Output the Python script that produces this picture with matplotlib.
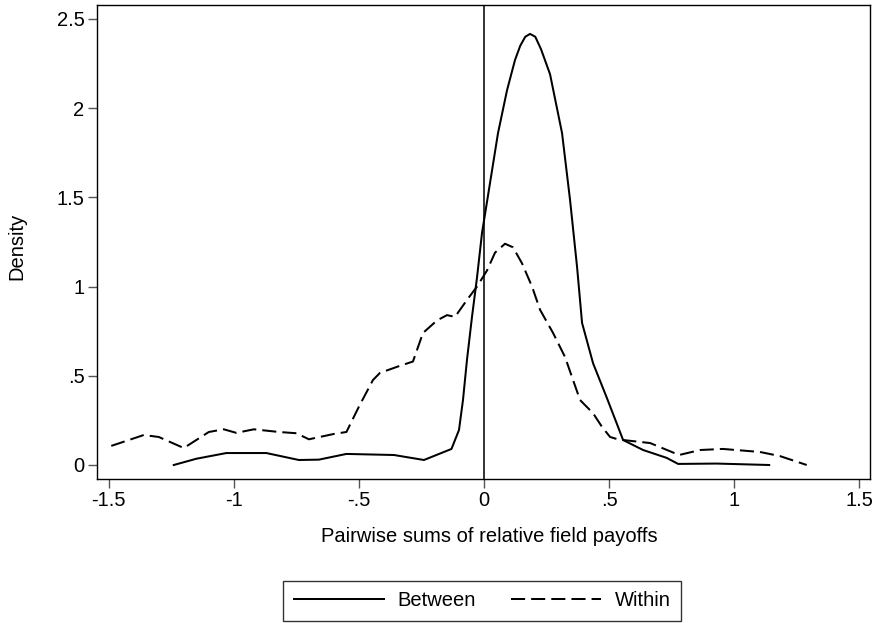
import matplotlib
matplotlib.use("Agg")
import matplotlib.pyplot as plt

plt.rcParams['font.family'] = ['Liberation Sans', 'DejaVu Sans']
plt.rcParams['axes.unicode_minus'] = False

# density estimates
between_x = [-1.24, -1.15, -1.03, -0.87, -0.74, -0.66, -0.55, -0.36, -0.24, -0.13,
             -0.10, -0.084, -0.068, -0.048, -0.028, -0.008, 0.024, 0.056, 0.092,
             0.124, 0.145, 0.165, 0.184, 0.205, 0.228, 0.264, 0.312, 0.344, 0.372,
             0.392, 0.436, 0.49, 0.53, 0.556, 0.636, 0.73, 0.776, 0.93, 1.14]
between_y = [0.0, 0.035, 0.067, 0.067, 0.028, 0.03, 0.062, 0.056, 0.028, 0.09,
             0.196, 0.364, 0.59, 0.83, 1.05, 1.30, 1.58, 1.86, 2.10,
             2.27, 2.35, 2.40, 2.416, 2.40, 2.33, 2.19, 1.86, 1.485, 1.11,
             0.796, 0.57, 0.38, 0.235, 0.14, 0.084, 0.04, 0.006, 0.008, 0.0]

within_x = [-1.49, -1.36, -1.30, -1.20, -1.10, -1.04, -0.99, -0.92, -0.82, -0.75,
            -0.70, -0.60, -0.55, -0.50, -0.444, -0.416, -0.348, -0.284, -0.244,
            -0.188, -0.148, -0.116, -0.068, -0.028, 0.012, 0.044, 0.084, 0.116,
            0.152, 0.192, 0.224, 0.276, 0.324, 0.356, 0.384, 0.436, 0.472, 0.504,
            0.544, 0.556, 0.664, 0.78, 0.864, 0.955, 1.103, 1.183, 1.29]
within_y = [0.107, 0.168, 0.157, 0.095, 0.185, 0.2, 0.18, 0.2, 0.185, 0.178,
            0.144, 0.174, 0.185, 0.327, 0.476, 0.516, 0.55, 0.58, 0.74,
            0.81, 0.84, 0.83, 0.925, 1.0, 1.09, 1.19, 1.24, 1.22,
            1.13, 1.0, 0.87, 0.74, 0.605, 0.476, 0.364, 0.29, 0.213, 0.157,
            0.14, 0.14, 0.123, 0.056, 0.084, 0.09, 0.073, 0.05, 0.0]

xticks = [-1.5, -1, -0.5, 0, 0.5, 1, 1.5]
xtick_labels = ['-1.5', '-1', '-.5', '0', '.5', '1', '1.5']
yticks = [0, 0.5, 1, 1.5, 2, 2.5]
ytick_labels = ['0', '.5', '1', '1.5', '2', '2.5']

fs = 14.5

fig = plt.figure(figsize=(8.72, 6.23), dpi=100)
ax = fig.add_axes([97 / 872, 1 - 479 / 623, 773 / 872, 474 / 623])

ax.axvline(0, color='#333333', lw=1.4, zorder=1)
ax.plot(between_x, between_y, color='black', lw=1.45, label='Between', zorder=3)
ax.plot(within_x, within_y, color='black', lw=1.45, dashes=(7, 3), label='Within', zorder=3)

ax.set_xlim(-1.547, 1.543)
ax.set_ylim(-0.0785, 2.578)
ax.set_xticks(xticks)
ax.set_xticklabels(xtick_labels)
ax.set_yticks(yticks)
ax.set_yticklabels(ytick_labels)
ax.tick_params(direction='out', length=6.5, width=1, color='#555555',
               labelsize=fs, pad=2.5)
for s in ax.spines.values():
    s.set_linewidth(1.0)
    s.set_color('black')

ax.set_xlabel('Pairwise sums of relative field payoffs', fontsize=fs)
ax.xaxis.set_label_coords(0.508, -0.122)
ax.xaxis.label.set_va('center')
ax.set_ylabel('Density', fontsize=fs)
ax.yaxis.set_label_coords(-0.1035, 0.49)
ax.yaxis.label.set_va('center')

leg = fig.legend(loc='center', bbox_to_anchor=(482 / 872, 1 - 601 / 623), ncol=2,
                 fontsize=fs, handlelength=4.5, handletextpad=0.65,
                 columnspacing=1.75, borderpad=0.5, frameon=True, fancybox=False)
leg.get_frame().set_edgecolor('black')
leg.get_frame().set_linewidth(1.0)

fig.savefig('out.png', dpi=100)
